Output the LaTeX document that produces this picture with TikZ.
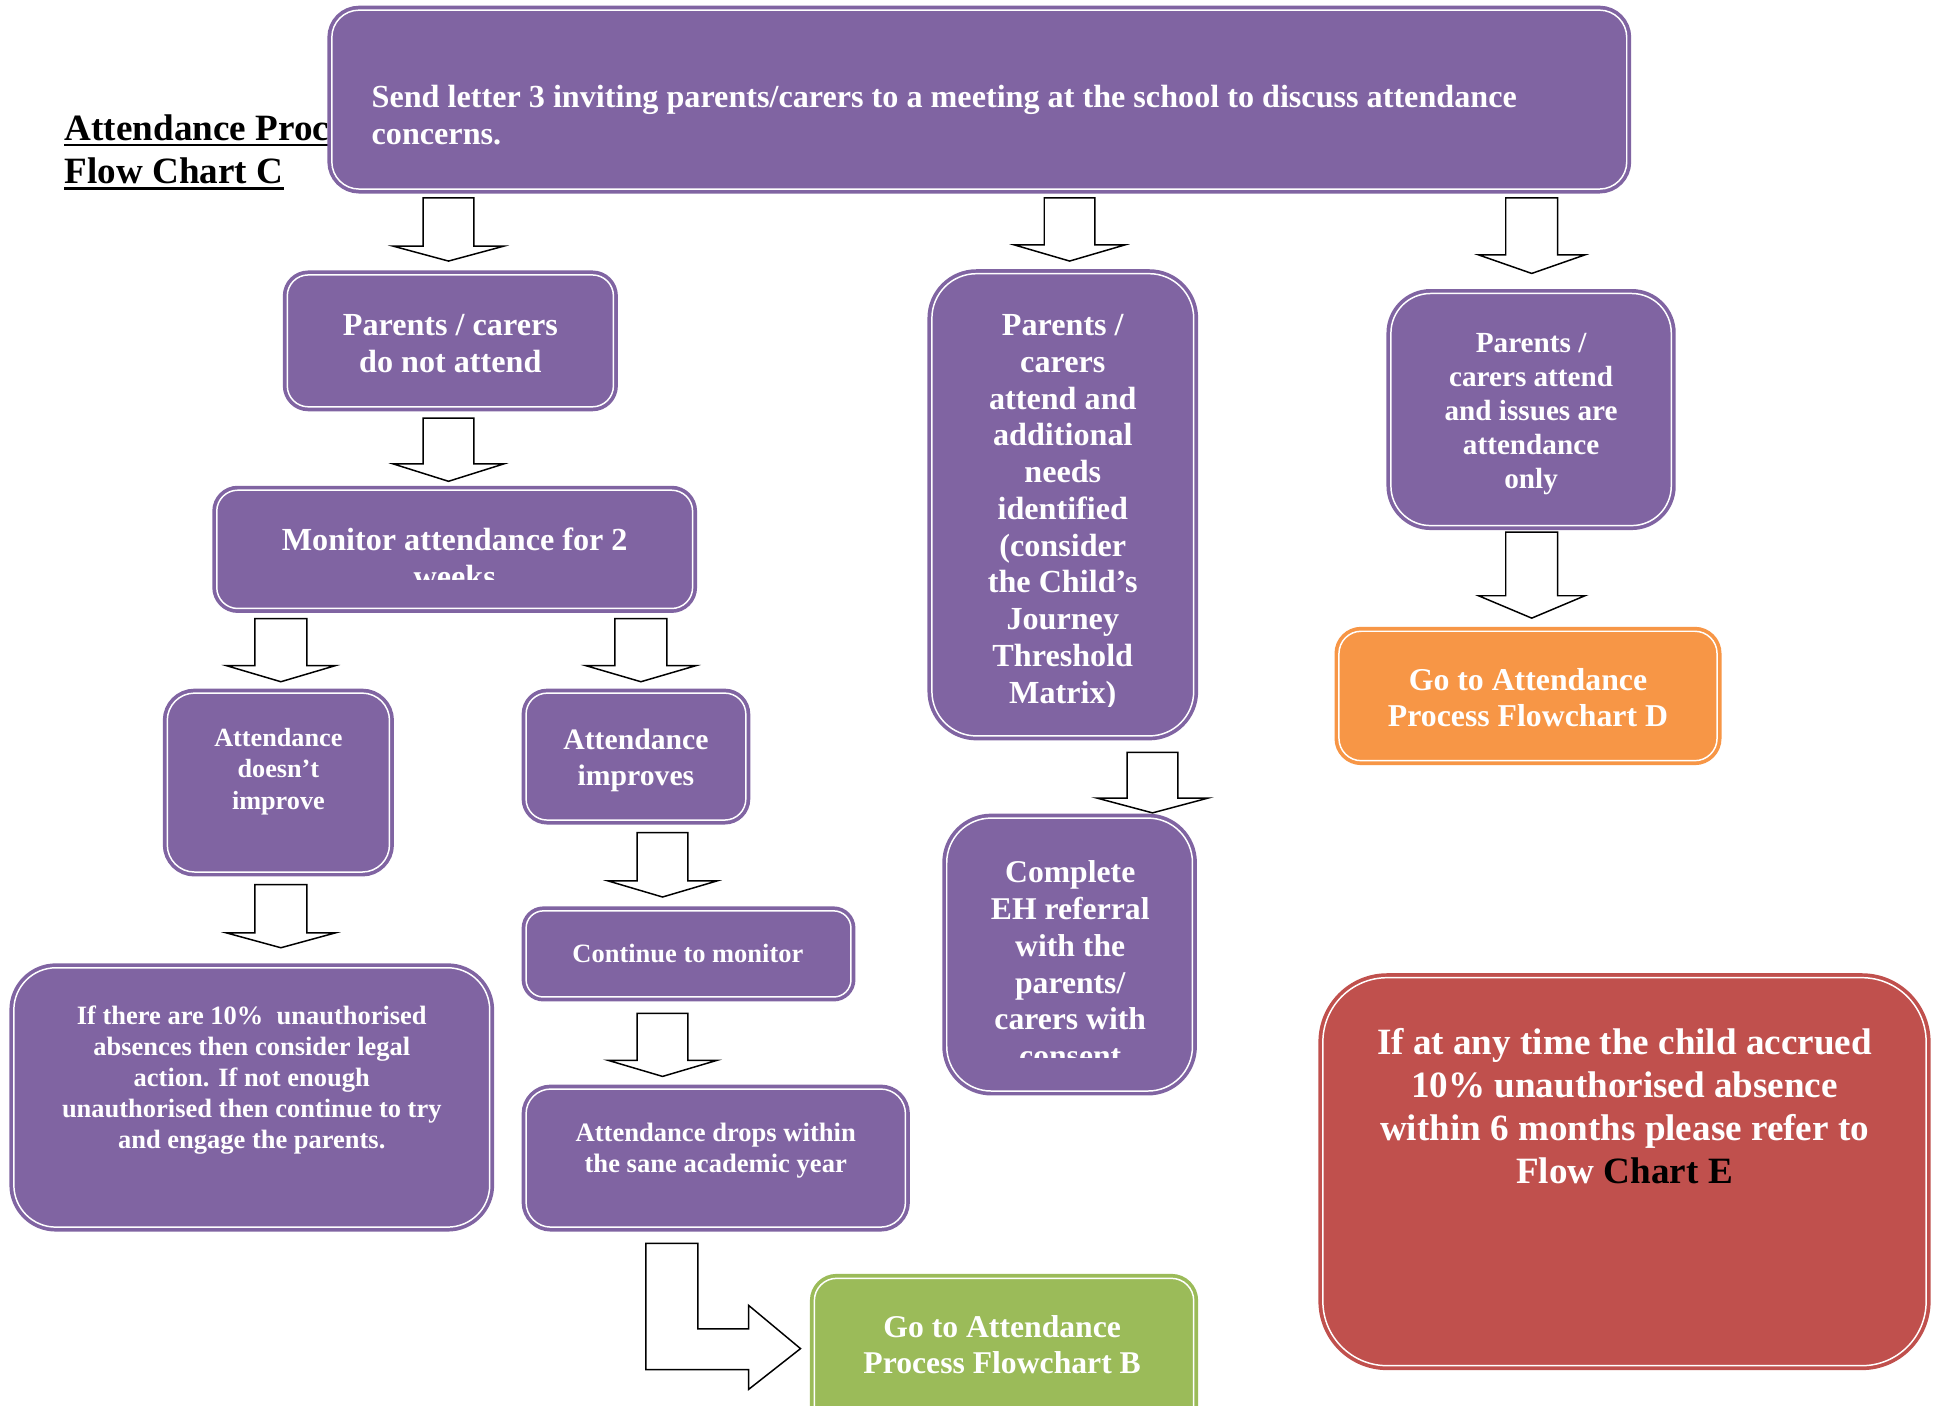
\documentclass[tikz,border=0pt]{standalone}
\usepackage{fontspec}
\setmainfont{Liberation Serif}
\usetikzlibrary{fit}
\definecolor{purp}{HTML}{8064A2}
\definecolor{orng}{HTML}{F79646}
\definecolor{grn}{HTML}{9BBB59}
\definecolor{redb}{HTML}{C0504D}
\tikzset{
  box/.style={rectangle, rounded corners=#1, draw=purp, fill=purp, line width=1.5pt,
    double=white, double distance=0.6pt, inner sep=-1.6pt, outer sep=0pt},
  obox/.style={box=#1, draw=orng, fill=orng},
  gbox/.style={box=#1, draw=grn, fill=grn},
  rbox/.style={box=#1, draw=redb, fill=redb},
  txt/.style 2 args={text=white, align=center, inner sep=0pt, font=\bfseries\fontsize{#1}{#2}\selectfont},
  ttl/.style={anchor=base west, inner sep=0pt, font=\bfseries\fontsize{15}{17.5}\selectfont},
  uline/.style={line width=1.1pt},
  blockarr/.style={draw=black, fill=white, line width=0.6pt, line join=miter},
}
\newcommand\blkdown[6]{%
  \draw[blockarr] ({#1-#5},#2) -- ({#1+#5},#2) -- ({#1+#5},#3) -- ({#1+#6},#3)
    -- (#1,#4) -- ({#1-#6},#3) -- ({#1-#5},#3) -- cycle;}
\begin{document}
\begin{tikzpicture}[x=0.5pt,y=-0.5pt]
\clip (0,0) rectangle (1568,1136);
\fill[white] (0,0) rectangle (1568,1136);
% title
\node[ttl] (title1) at (52,113.7) {Attendance Process};
\node[ttl] (title2) at (52,148.7) {Flow Chart C};
\draw[uline] ([yshift=-1.8pt]title1.base west) -- ([yshift=-1.8pt]title1.base east);
\draw[uline] ([yshift=-1.8pt]title2.base west) -- ([yshift=-1.8pt]title2.base east);
% boxes
\node[box=11pt, fit={(265,5) (1318,156)}] (top) {};
\node[box=8.5pt, fit={(229,219) (499,332)}] (pnot) {};
\node[box=8.5pt, fit={(172,393) (563,495)}] (mon) {};
\node[box=11pt, fit={(132,557) (318,708)}] (dni) {};
\node[box=8.5pt, fit={(422,557) (606,666)}] (imp) {};
\node[box=7pt, fit={(422,733) (691,809)}] (cont) {};
\node[box=10pt, fit={(422,877) (735,995)}] (drops) {};
\node[box=17pt, fit={(8,779) (399,995)}] (legal) {};
\node[box=18pt, fit={(750,218) (968,598)}] (mid) {};
\node[box=18pt, fit={(762,658) (967,885)}] (eh) {};
\node[box=16pt, fit={(1121,234) (1354,428)}] (ronly) {};
\node[obox=9pt, fit={(1079,507) (1391,618)}] (gotoD) {};
\node[gbox=9pt, fit={(655,1030) (968,1170)}] (gotoB) {};
\node[rbox=26pt, fit={(1066,787) (1560,1107)}] (refE) {};
% texts
\node[txt={13}{15}, align=left, anchor=west] (ttop) at (300,93)
  {Send letter 3 inviting parents/carers to a meeting at the school to discuss attendance\\concerns.};
\node[txt={13}{14.75}] (tpnot) at (364,277.5) {Parents / carers\\do not attend};
\begin{scope}
  \clip (172,393) rectangle (563,468.7);
  \node[txt={13}{15}] (tmon) at (367.5,451) {Monitor attendance for 2\\weeks};
\end{scope}
\node[txt={10.6}{12.75}] (tdni) at (225,623.5) {Attendance\\doesn’t\\improve};
\node[txt={12}{14.7}] (timp) at (514,614.3) {Attendance\\improves};
\node[txt={10.7}{12.5}] (tcont) at (556,771) {Continue to monitor};
\node[txt={10.75}{12.5}] (tdrops) at (578.5,930) {Attendance drops within\\the sane academic year};
\node[txt={10.7}{12.5}] (tlegal) at (203.5,873)
  {If there are 10\%\ \ unauthorised\\absences then consider legal\\action. If not enough\\unauthorised then continue to try\\and engage the parents.};
\begin{scope}
  \clip (750,218) rectangle (968,571);
  \node[txt={13}{14.85}] (tmid) at (859,414)
    {Parents /\\carers\\attend and\\additional\\needs\\identified\\(consider\\the Child’s\\Journey\\Threshold\\Matrix)};
\end{scope}
\begin{scope}
  \clip (762,658) rectangle (967,855);
  \node[txt={12.8}{14.9}] (teh) at (865,779)
    {Complete\\EH referral\\with the\\parents/\\carers with\\consent};
\end{scope}
\node[txt={11.8}{13.75}] (tronly) at (1237.5,334.5)
  {Parents /\\carers attend\\and issues are\\attendance\\only};
\node[txt={12.85}{14.5}] (tgotoD) at (1235,564) {Go to Attendance\\Process Flowchart D};
\node[txt={12.8}{14.5}] (tgotoB) at (810,1087) {Go to Attendance\\Process Flowchart B};
\node[txt={15}{17.3}] (trefE) at (1313,894)
  {If at any time the child accrued\\10\% unauthorised absence\\within 6 months please refer to\\Flow {\color{black}Chart E}};
% block arrows
\blkdown{362.5}{160}{199}{211}{20.5}{44.5}
\blkdown{362.5}{338}{375}{389}{20.5}{44.5}
\blkdown{227}{500}{538}{551}{21}{44}
\blkdown{518}{500}{538}{551}{21}{44.5}
\blkdown{227}{715}{754}{766}{21}{44}
\blkdown{535.5}{673}{712}{725}{20.5}{44}
\blkdown{535.5}{819}{857}{870}{20.5}{44}
\blkdown{864.5}{160}{198}{211}{20.5}{44.5}
\blkdown{931.5}{608}{645}{657}{20.5}{45}
\blkdown{1238}{160}{206}{221}{21}{43}
\blkdown{1238}{430}{481.5}{499.6}{21}{43}
% L-shaped arrow
\draw[blockarr] (522,1005) -- (564,1005) -- (564,1074) -- (605,1074) -- (605,1055)
  -- (647,1090) -- (605,1123) -- (605,1107) -- (522,1107) -- cycle;
\end{tikzpicture}
\end{document}
